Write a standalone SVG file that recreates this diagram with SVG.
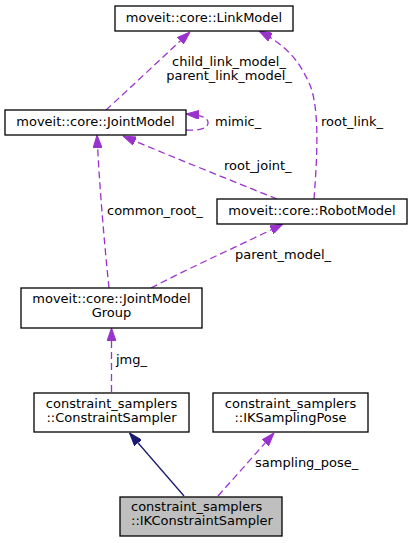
<svg xmlns="http://www.w3.org/2000/svg" width="413" height="543" viewBox="0 0 413 543">
<style>
text{font-family:"DejaVu Sans","Liberation Sans",sans-serif;font-size:13px;fill:#000}
.n rect{fill:#fff;stroke:#000;stroke-width:1.3}
.n rect.hl{fill:#bfbfbf}
.m{text-anchor:middle}
.e{fill:none;stroke:#9a32cd;stroke-width:1.3;stroke-dasharray:7,4}
.i{fill:none;stroke:#191970;stroke-width:1.3}
</style>
<defs>
<marker id="ap" viewBox="0 0 13 9" refX="13" refY="4.5" markerWidth="13" markerHeight="9" markerUnits="userSpaceOnUse" orient="auto"><path d="M0,0L13,4.5L0,9z" fill="#9a32cd" stroke="#9a32cd"/></marker>
<marker id="an" viewBox="0 0 13 9" refX="13" refY="4.5" markerWidth="13" markerHeight="9" markerUnits="userSpaceOnUse" orient="auto"><path d="M0,0L13,4.5L0,9z" fill="#191970" stroke="#191970"/></marker>
</defs>
<g id="connectors">
<path class="e" marker-end="url(#ap)" d="M106,110 C130,88 165,55 190,32"/>
<text class="m" x="229" y="66">child_link_model_</text>
<text class="m" x="229" y="80">parent_link_model_</text>
<path class="e" marker-end="url(#ap)" d="M314,199 C317,160 320,110 310,85 C298,58 285,45 259,31"/>
<text x="321" y="126">root_link_</text>
<path class="e" marker-end="url(#ap)" d="M186,130 C200,131 209,128 208,122 C207,117 200,115 186,114"/>
<text x="215" y="126">mimic_</text>
<path class="e" marker-end="url(#ap)" d="M277,199 C230,180 170,156 123,136"/>
<text x="224" y="170">root_joint_</text>
<path class="e" marker-end="url(#ap)" d="M109,288 C104,240 99,180 97,135"/>
<text x="107" y="215">common_root_</text>
<path class="e" marker-end="url(#ap)" d="M151,288 C195,265 245,243 283,224"/>
<text x="235" y="259">parent_model_</text>
<path class="e" marker-end="url(#ap)" d="M111.5,392 L111.5,328"/>
<text x="116" y="364">jmg_</text>
<path class="i" marker-end="url(#an)" d="M184,496 L129.5,433"/>
<path class="e" marker-end="url(#ap)" d="M218,496 L274,433"/>
<text x="255" y="467">sampling_pose_</text>
</g>
<g id="LinkModel" class="n"><rect x="115" y="6" width="178" height="25"/><text class="m" x="204" y="22">moveit::core::LinkModel</text></g>
<g id="JointModel" class="n"><rect x="5" y="110" width="181" height="25"/><text class="m" x="95.5" y="126">moveit::core::JointModel</text></g>
<g id="RobotModel" class="n"><rect x="217" y="199" width="190" height="25"/><text class="m" x="312" y="215">moveit::core::RobotModel</text></g>
<g id="JointModelGroup" class="n"><rect x="21" y="288" width="181" height="40"/><text class="m" x="111.5" y="303">moveit::core::JointModel</text><text class="m" x="111.5" y="317">Group</text></g>
<g id="ConstraintSampler" class="n"><rect x="34" y="393" width="155" height="39"/><text class="m" x="111.5" y="408">constraint_samplers</text><text class="m" x="111.5" y="422">::ConstraintSampler</text></g>
<g id="IKSamplingPose" class="n"><rect x="213" y="393" width="155" height="39"/><text class="m" x="290.5" y="408">constraint_samplers</text><text class="m" x="290.5" y="422">::IKSamplingPose</text></g>
<g id="IKConstraintSampler" class="n"><rect class="hl" x="120" y="497" width="162" height="39"/><text x="131" y="511">constraint_samplers</text><text x="131" y="525">::IKConstraintSampler</text></g>
</svg>
